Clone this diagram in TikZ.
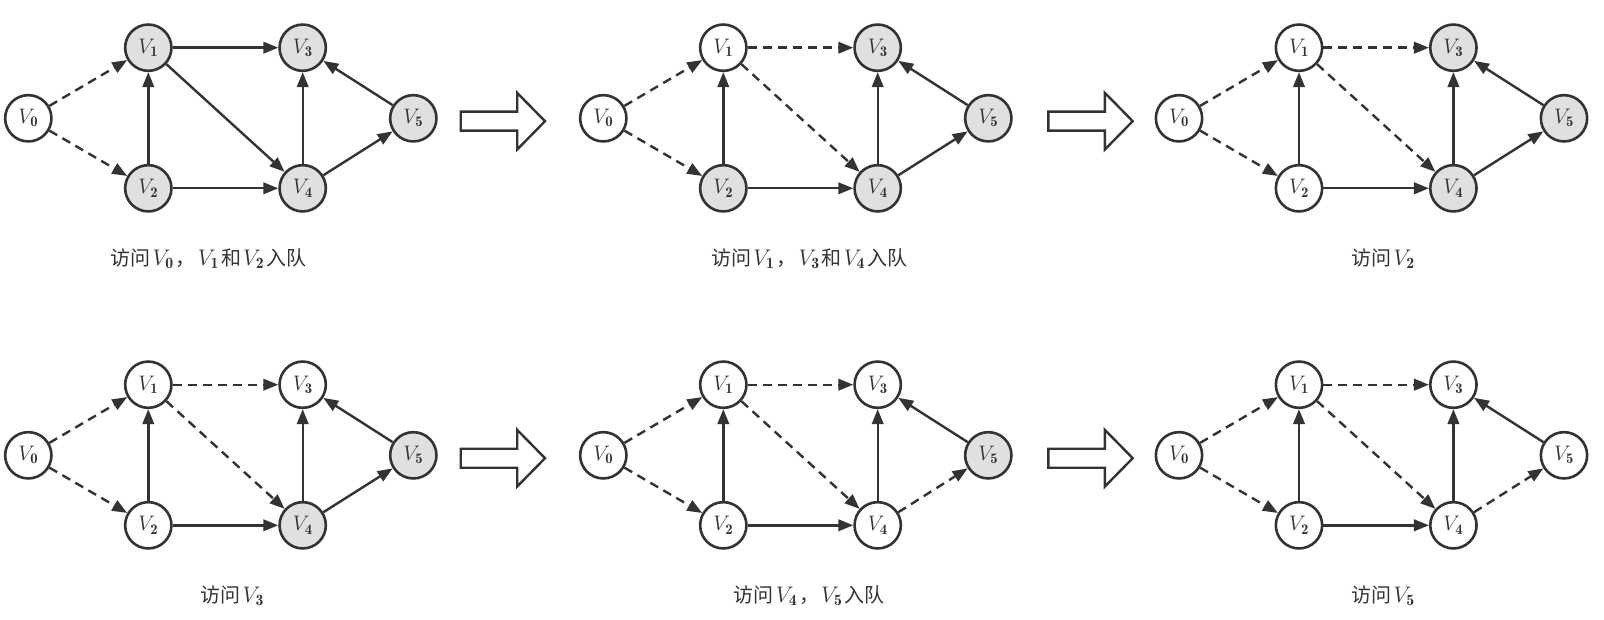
\RequirePackage{fix-cm}
\documentclass[tikz,border=0pt]{standalone}
\usepackage{fontspec}
\newfontfamily\cjk{Noto Sans CJK SC}
\usetikzlibrary{arrows.meta}
\definecolor{ink}{HTML}{333333}
\definecolor{visit}{HTML}{E0E0E0}
\newcommand\vn[1]{V_{\mathbf{#1}}}
\newcommand\mbig[1]{\kern2pt{\fontsize{22.5}{24}\selectfont$#1$}\kern2pt}
\tikzset{
  vtx/.style={circle, draw=ink, line width=2.6pt, minimum size=46.3pt, inner sep=0pt, fill=white, text=ink, font=\fontsize{21}{24}\selectfont},
  grayv/.style={fill=visit},
  f0/.style={}, f1/.style={}, f2/.style={}, f3/.style={}, f4/.style={}, f5/.style={},
  edgeline/.style={draw=ink, line width=2.4pt, -{Triangle[length=15pt,width=11.5pt]}},
  dashedge/.style={edgeline, dash pattern=on 9pt off 6pt},
  e13/.style={dashedge}, e14/.style={dashedge}, e45/.style={edgeline},
  caption/.style={text=ink, font=\fontsize{20}{22}\selectfont, inner sep=0pt},
  bigarrow/.style={draw=ink, line width=2.4pt, fill=white, line join=miter}
}
\newcommand\gpanel[3]{%
\begin{scope}[shift={#2},#3]
\node[vtx,f0] (#1v0) at (28.3,118.3) {$\vn0$};
\node[vtx,f1] (#1v1) at (148.3,47.7) {$\vn1$};
\node[vtx,f2] (#1v2) at (148.3,188.3) {$\vn2$};
\node[vtx,f3] (#1v3) at (302.7,47.7) {$\vn3$};
\node[vtx,f4] (#1v4) at (302.7,188.3) {$\vn4$};
\node[vtx,f5] (#1v5) at (413.3,118.3) {$\vn5$};
\draw[dashedge] (#1v0) -- (#1v1);
\draw[dashedge] (#1v0) -- (#1v2);
\draw[e13] (#1v1) -- (#1v3);
\draw[e14] (#1v1) -- (#1v4);
\draw[edgeline] (#1v2) -- (#1v1);
\draw[edgeline] (#1v2) -- (#1v4);
\draw[edgeline] (#1v4) -- (#1v3);
\draw[edgeline] (#1v5) -- (#1v3);
\draw[e45] (#1v4) -- (#1v5);
\end{scope}}
\newcommand\bigarr[1]{%
\begin{scope}[shift={#1}]
\draw[bigarrow] (0,-9.5) -- (56.5,-9.5) -- (56.5,-28.3) -- (84.3,0) -- (56.5,28.3) -- (56.5,9.5) -- (0,9.5) -- cycle;
\end{scope}}
\begin{document}
\begin{tikzpicture}[x=1pt,y=-1pt]
\useasboundingbox[fill=white] (0,0) rectangle (1604,620);
% row 1
\gpanel{a}{(0,0)}{f1/.style=grayv,f2/.style=grayv,f3/.style=grayv,f4/.style=grayv,f5/.style=grayv,e13/.style=edgeline,e14/.style=edgeline}
\gpanel{b}{(575,0)}{f2/.style=grayv,f3/.style=grayv,f4/.style=grayv,f5/.style=grayv}
\gpanel{c}{(1150.7,0)}{f3/.style=grayv,f4/.style=grayv,f5/.style=grayv}
% row 2
\gpanel{d}{(0,337)}{f4/.style=grayv,f5/.style=grayv}
\gpanel{e}{(575,337)}{f5/.style=grayv,e45/.style=dashedge}
\gpanel{f}{(1150.7,337)}{e45/.style=dashedge}
% big arrows
\bigarr{(460.7,121.2)}
\bigarr{(1048.4,121.2)}
\bigarr{(460.7,458.2)}
\bigarr{(1048.4,458.2)}
% captions
\node[caption] (ca) at (208.4,258.5) {\cjk 访问\mbig{\vn0}，\mbig{\vn1}和\mbig{\vn2}入队};
\node[caption] (cb) at (809.2,258.5) {\cjk 访问\mbig{\vn1}，\mbig{\vn3}和\mbig{\vn4}入队};
\node[caption] (cc) at (1384.2,258.5) {\cjk 访问\mbig{\vn2}};
\node[caption] (cd) at (233.3,596) {\cjk 访问\mbig{\vn3}};
\node[caption] (ce) at (809.2,596) {\cjk 访问\mbig{\vn4}，\mbig{\vn5}入队};
\node[caption] (cf) at (1384.2,596) {\cjk 访问\mbig{\vn5}};
\end{tikzpicture}
\end{document}
